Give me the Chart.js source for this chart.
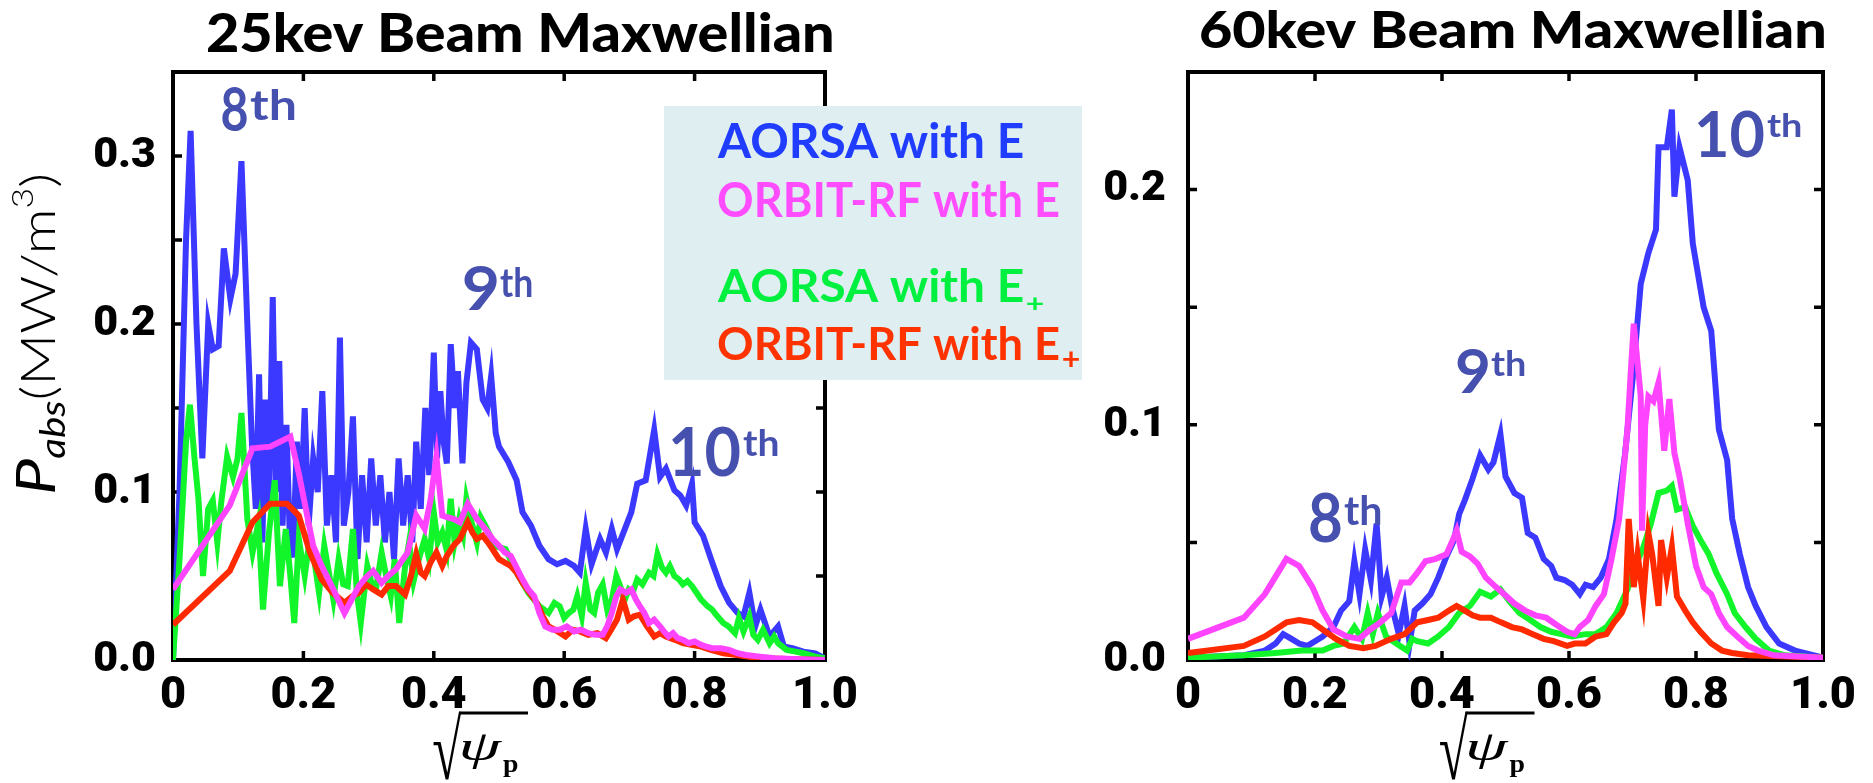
<!DOCTYPE html>
<html>
<head>
<meta charset="utf-8">
<script src="https://cdn.jsdelivr.net/npm/chart.js@4"></script>
<style>
  body { margin: 0; background: #fff; width: 1873px; height: 783px; overflow: hidden; position: relative; }
  canvas { position: absolute; top: 0; }
  #left { left: 0; }
  #right { left: 1100px; }
</style>
</head>
<body>
<canvas id="left" width="1100" height="783"></canvas>
<canvas id="right" width="773" height="783"></canvas>
<script>
// ---- data: [sqrt(psi_p), P_abs] ----
const blue25 = [[0,0],[0.01,0.1],[0.02,0.25],[0.027,0.315],[0.036,0.2],[0.045,0.12],[0.054,0.2],[0.061,0.185],[0.07,0.187],[0.078,0.245],[0.088,0.215],[0.096,0.23],[0.105,0.297],[0.114,0.2],[0.121,0.13],[0.127,0.09],[0.132,0.17],[0.137,0.07],[0.142,0.155],[0.147,0.09],[0.153,0.216],[0.158,0.1],[0.163,0.178],[0.168,0.08],[0.174,0.14],[0.179,0.075],[0.184,0.061],[0.19,0.13],[0.196,0.09],[0.202,0.15],[0.208,0.08],[0.215,0.12],[0.222,0.1],[0.229,0.16],[0.236,0.08],[0.243,0.11],[0.25,0.07],[0.256,0.192],[0.262,0.08],[0.269,0.1],[0.276,0.145],[0.283,0.06],[0.29,0.11],[0.297,0.07],[0.304,0.12],[0.311,0.08],[0.318,0.11],[0.325,0.07],[0.332,0.1],[0.339,0.06],[0.346,0.12],[0.353,0.08],[0.36,0.11],[0.367,0.07],[0.373,0.13],[0.38,0.09],[0.387,0.15],[0.393,0.11],[0.4,0.183],[0.405,0.12],[0.41,0.16],[0.415,0.13],[0.42,0.117],[0.426,0.188],[0.432,0.15],[0.437,0.172],[0.444,0.117],[0.45,0.165],[0.457,0.189],[0.466,0.185],[0.475,0.155],[0.482,0.15],[0.488,0.169],[0.495,0.135],[0.5,0.127],[0.514,0.118],[0.527,0.107],[0.536,0.088],[0.549,0.08],[0.562,0.068],[0.576,0.06],[0.589,0.057],[0.602,0.059],[0.615,0.056],[0.624,0.052],[0.633,0.078],[0.642,0.057],[0.655,0.072],[0.664,0.064],[0.673,0.078],[0.681,0.066],[0.695,0.08],[0.703,0.088],[0.712,0.105],[0.725,0.107],[0.738,0.137],[0.747,0.109],[0.756,0.114],[0.769,0.101],[0.778,0.098],[0.787,0.092],[0.796,0.105],[0.8,0.082],[0.813,0.074],[0.827,0.058],[0.84,0.044],[0.853,0.034],[0.866,0.028],[0.875,0.026],[0.884,0.04],[0.893,0.02],[0.901,0.03],[0.915,0.014],[0.928,0.02],[0.937,0.008],[0.95,0.007],[0.967,0.005],[0.985,0.004],[1,0.001]];
const green25 = [[0,0],[0.01,0.06],[0.02,0.13],[0.026,0.152],[0.033,0.12],[0.039,0.096],[0.046,0.05],[0.054,0.09],[0.061,0.095],[0.068,0.07],[0.074,0.094],[0.083,0.121],[0.092,0.109],[0.099,0.12],[0.105,0.147],[0.114,0.084],[0.122,0.064],[0.131,0.082],[0.138,0.03],[0.147,0.075],[0.156,0.107],[0.164,0.044],[0.173,0.078],[0.18,0.05],[0.186,0.022],[0.193,0.072],[0.202,0.05],[0.209,0.07],[0.215,0.064],[0.224,0.04],[0.232,0.068],[0.24,0.05],[0.246,0.036],[0.254,0.06],[0.261,0.045],[0.268,0.044],[0.276,0.078],[0.282,0.04],[0.288,0.022],[0.298,0.056],[0.305,0.045],[0.312,0.044],[0.32,0.064],[0.327,0.05],[0.334,0.038],[0.34,0.06],[0.347,0.022],[0.356,0.056],[0.362,0.07],[0.369,0.047],[0.377,0.06],[0.386,0.072],[0.393,0.06],[0.4,0.088],[0.406,0.07],[0.413,0.076],[0.42,0.065],[0.426,0.096],[0.432,0.07],[0.439,0.084],[0.445,0.075],[0.45,0.096],[0.458,0.082],[0.466,0.07],[0.472,0.085],[0.479,0.08],[0.485,0.075],[0.492,0.068],[0.51,0.066],[0.527,0.052],[0.545,0.04],[0.562,0.032],[0.576,0.028],[0.585,0.034],[0.593,0.032],[0.6,0.025],[0.607,0.028],[0.614,0.03],[0.62,0.038],[0.627,0.026],[0.633,0.046],[0.64,0.03],[0.646,0.028],[0.652,0.04],[0.659,0.045],[0.666,0.03],[0.673,0.036],[0.68,0.05],[0.686,0.044],[0.692,0.035],[0.699,0.042],[0.705,0.04],[0.712,0.048],[0.72,0.045],[0.73,0.052],[0.737,0.05],[0.743,0.063],[0.75,0.055],[0.756,0.052],[0.762,0.056],[0.769,0.05],[0.776,0.048],[0.782,0.045],[0.789,0.047],[0.796,0.044],[0.803,0.04],[0.81,0.036],[0.82,0.032],[0.827,0.03],[0.835,0.026],[0.844,0.022],[0.852,0.02],[0.862,0.016],[0.868,0.025],[0.875,0.017],[0.884,0.026],[0.89,0.015],[0.897,0.012],[0.905,0.018],[0.915,0.01],[0.922,0.014],[0.928,0.01],[0.941,0.006],[0.955,0.005],[0.967,0.004],[0.985,0.002],[1,0.001]];
const magenta25 = [[0,0.042],[0.087,0.092],[0.122,0.126],[0.149,0.127],[0.18,0.133],[0.193,0.111],[0.215,0.068],[0.228,0.056],[0.246,0.042],[0.263,0.028],[0.285,0.044],[0.298,0.05],[0.307,0.053],[0.32,0.046],[0.33,0.05],[0.342,0.054],[0.36,0.064],[0.373,0.086],[0.386,0.078],[0.395,0.095],[0.404,0.121],[0.413,0.086],[0.42,0.085],[0.43,0.084],[0.44,0.082],[0.452,0.093],[0.466,0.084],[0.475,0.08],[0.483,0.076],[0.49,0.072],[0.5,0.068],[0.509,0.064],[0.518,0.062],[0.527,0.055],[0.536,0.048],[0.545,0.042],[0.554,0.038],[0.562,0.028],[0.571,0.02],[0.582,0.018],[0.593,0.018],[0.604,0.02],[0.615,0.017],[0.626,0.018],[0.637,0.016],[0.648,0.015],[0.659,0.015],[0.666,0.02],[0.673,0.028],[0.68,0.038],[0.686,0.042],[0.695,0.04],[0.703,0.042],[0.71,0.036],[0.716,0.032],[0.723,0.028],[0.73,0.022],[0.738,0.024],[0.747,0.02],[0.753,0.017],[0.76,0.014],[0.767,0.016],[0.774,0.013],[0.782,0.012],[0.791,0.01],[0.8,0.011],[0.81,0.009],[0.818,0.008],[0.827,0.007],[0.84,0.007],[0.853,0.006],[0.866,0.004],[0.879,0.003],[0.9,0.002],[0.923,0.001],[0.96,0.0005],[1,0]];
const red25 = [[0,0.021],[0.087,0.053],[0.122,0.082],[0.149,0.093],[0.175,0.093],[0.193,0.086],[0.21,0.064],[0.228,0.048],[0.245,0.04],[0.263,0.034],[0.275,0.038],[0.285,0.04],[0.296,0.045],[0.307,0.042],[0.32,0.039],[0.33,0.044],[0.342,0.044],[0.356,0.039],[0.365,0.05],[0.373,0.063],[0.38,0.052],[0.386,0.05],[0.395,0.058],[0.404,0.064],[0.413,0.056],[0.42,0.062],[0.43,0.068],[0.44,0.072],[0.452,0.082],[0.459,0.076],[0.466,0.072],[0.475,0.074],[0.483,0.07],[0.49,0.066],[0.5,0.06],[0.509,0.058],[0.518,0.056],[0.527,0.052],[0.536,0.046],[0.547,0.04],[0.558,0.034],[0.567,0.026],[0.576,0.02],[0.59,0.017],[0.602,0.014],[0.613,0.018],[0.624,0.017],[0.637,0.015],[0.651,0.016],[0.664,0.013],[0.672,0.018],[0.681,0.024],[0.69,0.036],[0.699,0.024],[0.707,0.026],[0.716,0.027],[0.727,0.02],[0.738,0.014],[0.747,0.016],[0.756,0.014],[0.77,0.012],[0.782,0.01],[0.795,0.009],[0.81,0.008],[0.825,0.006],[0.844,0.004],[0.865,0.003],[0.9,0.001],[1,0]];

const blue60 = [[0,0.001],[0.088,0.002],[0.121,0.004],[0.138,0.007],[0.15,0.011],[0.163,0.009],[0.175,0.007],[0.188,0.006],[0.2,0.008],[0.212,0.01],[0.229,0.014],[0.241,0.021],[0.254,0.025],[0.262,0.042],[0.27,0.028],[0.279,0.047],[0.288,0.034],[0.297,0.058],[0.305,0.027],[0.313,0.035],[0.321,0.023],[0.332,0.011],[0.341,0.023],[0.349,0.007],[0.357,0.021],[0.369,0.024],[0.382,0.028],[0.394,0.035],[0.407,0.044],[0.419,0.051],[0.427,0.062],[0.436,0.068],[0.448,0.077],[0.46,0.087],[0.473,0.081],[0.481,0.084],[0.492,0.096],[0.5,0.078],[0.514,0.071],[0.526,0.069],[0.535,0.054],[0.547,0.052],[0.56,0.043],[0.572,0.04],[0.58,0.035],[0.593,0.034],[0.605,0.032],[0.617,0.028],[0.626,0.032],[0.638,0.031],[0.65,0.035],[0.663,0.043],[0.675,0.06],[0.688,0.087],[0.7,0.119],[0.713,0.16],[0.725,0.173],[0.737,0.183],[0.741,0.218],[0.754,0.218],[0.762,0.234],[0.766,0.197],[0.774,0.218],[0.787,0.204],[0.795,0.177],[0.812,0.15],[0.824,0.14],[0.836,0.098],[0.849,0.085],[0.857,0.06],[0.869,0.045],[0.882,0.031],[0.894,0.023],[0.911,0.014],[0.931,0.007],[0.956,0.004],[1,0.001]];
const green60 = [[0,0.001],[0.088,0.002],[0.138,0.003],[0.179,0.004],[0.212,0.004],[0.229,0.006],[0.245,0.007],[0.262,0.014],[0.274,0.009],[0.283,0.02],[0.291,0.011],[0.299,0.02],[0.312,0.01],[0.328,0.007],[0.345,0.004],[0.353,0.009],[0.361,0.008],[0.378,0.007],[0.394,0.01],[0.411,0.014],[0.427,0.02],[0.444,0.023],[0.46,0.029],[0.477,0.027],[0.492,0.03],[0.506,0.025],[0.522,0.02],[0.539,0.017],[0.555,0.014],[0.572,0.012],[0.588,0.011],[0.605,0.01],[0.626,0.011],[0.642,0.011],[0.659,0.014],[0.675,0.02],[0.692,0.03],[0.704,0.04],[0.716,0.047],[0.729,0.058],[0.741,0.071],[0.754,0.072],[0.762,0.074],[0.77,0.064],[0.783,0.065],[0.795,0.057],[0.807,0.051],[0.82,0.045],[0.832,0.037],[0.849,0.028],[0.861,0.02],[0.878,0.014],[0.894,0.009],[0.915,0.004],[0.94,0.002],[1,0.001]];
const magenta60 = [[0,0.009],[0.088,0.018],[0.121,0.028],[0.155,0.043],[0.175,0.04],[0.196,0.031],[0.212,0.021],[0.229,0.013],[0.25,0.01],[0.27,0.009],[0.287,0.013],[0.303,0.016],[0.32,0.02],[0.336,0.033],[0.349,0.033],[0.361,0.037],[0.374,0.042],[0.39,0.043],[0.407,0.045],[0.417,0.051],[0.423,0.055],[0.431,0.046],[0.444,0.044],[0.456,0.041],[0.469,0.035],[0.485,0.031],[0.502,0.027],[0.514,0.024],[0.531,0.021],[0.547,0.019],[0.564,0.018],[0.58,0.015],[0.597,0.012],[0.609,0.011],[0.617,0.014],[0.63,0.017],[0.642,0.023],[0.655,0.028],[0.667,0.043],[0.679,0.06],[0.692,0.098],[0.697,0.121],[0.702,0.143],[0.708,0.126],[0.713,0.112],[0.715,0.055],[0.72,0.1],[0.725,0.112],[0.733,0.11],[0.741,0.118],[0.75,0.089],[0.758,0.111],[0.766,0.088],[0.774,0.078],[0.787,0.058],[0.8,0.04],[0.812,0.031],[0.824,0.028],[0.836,0.02],[0.849,0.014],[0.865,0.01],[0.882,0.006],[0.898,0.004],[0.923,0.002],[1,0.001]];
const red60 = [[0,0.003],[0.088,0.006],[0.121,0.01],[0.138,0.013],[0.155,0.016],[0.175,0.017],[0.196,0.016],[0.212,0.013],[0.233,0.009],[0.254,0.006],[0.276,0.005],[0.295,0.006],[0.32,0.009],[0.341,0.011],[0.361,0.016],[0.378,0.017],[0.394,0.018],[0.411,0.021],[0.423,0.023],[0.436,0.021],[0.448,0.019],[0.46,0.018],[0.477,0.018],[0.493,0.016],[0.51,0.014],[0.526,0.013],[0.543,0.011],[0.56,0.009],[0.576,0.008],[0.597,0.006],[0.609,0.007],[0.626,0.007],[0.642,0.01],[0.659,0.011],[0.671,0.016],[0.683,0.02],[0.689,0.024],[0.694,0.06],[0.702,0.031],[0.708,0.045],[0.717,0.026],[0.725,0.054],[0.731,0.045],[0.741,0.023],[0.745,0.051],[0.754,0.035],[0.762,0.048],[0.77,0.027],[0.783,0.021],[0.795,0.016],[0.807,0.012],[0.824,0.007],[0.841,0.004],[0.857,0.003],[0.882,0.002],[1,0.001]];

const xTickLabels = ['0', '0.2', '0.4', '0.6', '0.8', '1.0'];
const yTickLabels25 = ['0.0', '', '0.1', '', '0.2', '', '0.3', ''];
const yTickLabels60 = ['0.0', '', '0.1', '', '0.2', ''];
const legendTexts = ['AORSA with E', 'ORBIT-RF with E', 'AORSA with E', 'ORBIT-RF with E'];
const legendSubs = ['', '', '+', '+'];

// ---- styles ----
const BLUE = '#3b38ff', MAGENTA = '#ff44ff', GREEN = '#12f52a', RED = '#ff2a00';
const LEGEND_COLORS = ['#1f3cff', '#ff4cff', '#00f040', '#ff3300'];
const ORD = '#4650ae';
const SANS = 'Lato, "Open Sans", sans-serif';
const TICK_FONT = 'Roboto, "Liberation Sans", sans-serif';
const SERIF = '"Liberation Serif", "DejaVu Serif", serif';

// draw text squeezed so its ink fills box [x0, x1, y0, y1]
function fitText(ctx, text, font, color, box) {
  ctx.save();
  ctx.font = font;
  ctx.textAlign = 'left';
  ctx.textBaseline = 'alphabetic';
  const m = ctx.measureText(text);
  const w = m.actualBoundingBoxLeft + m.actualBoundingBoxRight;
  const h = m.actualBoundingBoxAscent + m.actualBoundingBoxDescent;
  ctx.translate(box[0], box[2]);
  ctx.scale((box[1] - box[0]) / w, (box[3] - box[2]) / h);
  ctx.fillStyle = color;
  ctx.fillText(text, m.actualBoundingBoxLeft, m.actualBoundingBoxAscent);
  ctx.restore();
}

const decor = {
  id: 'decor',
  beforeDatasetsDraw(chart) {
    const { ctx, chartArea: a, scales: { x, y } } = chart;
    ctx.save();
    ctx.strokeStyle = '#000';
    ctx.lineWidth = 4;
    ctx.strokeRect(a.left, a.top, a.right - a.left, a.bottom - a.top);
    ctx.lineWidth = 3.5;
    ctx.beginPath();
    x.ticks.forEach(t => {
      if (t.value <= x.min || t.value >= x.max) return;
      const p = x.getPixelForValue(t.value);
      ctx.moveTo(p, a.top); ctx.lineTo(p, a.top + 9);
      ctx.moveTo(p, a.bottom); ctx.lineTo(p, a.bottom - 9);
    });
    y.ticks.forEach(t => {
      if (t.value <= y.min || t.value >= y.max) return;
      const p = y.getPixelForValue(t.value);
      ctx.moveTo(a.left, p); ctx.lineTo(a.left + 9, p);
      ctx.moveTo(a.right, p); ctx.lineTo(a.right - 9, p);
    });
    ctx.stroke();
    ctx.restore();
  },
  afterDraw(chart, args, o) {
    const { ctx, chartArea: a, scales: { x, y } } = chart;
    fitText(ctx, o.title, '900 52px ' + SANS, '#000', o.titleBox);

    // sqrt(psi_p) axis title
    const sx = (a.left + a.right) / 2 - 66;
    fitText(ctx, '\u221A', '64px ' + SERIF, '#000', [sx, sx + 29, 711, 780]);
    ctx.save();
    ctx.strokeStyle = '#000';
    ctx.lineWidth = 3;
    ctx.beginPath();
    ctx.moveTo(sx + 26, 713);
    ctx.lineTo(sx + 95, 713);
    ctx.stroke();
    ctx.restore();
    fitText(ctx, '\u03C8', 'italic 40px ' + SERIF, '#000', [sx + 29, sx + 70, 735, 770]);
    fitText(ctx, 'p', 'bold 26px ' + SERIF, '#000', [sx + 70, sx + 85, 760, 777]);

    // harmonic labels
    o.ordinals.forEach(d => {
      const left = x.getPixelForValue(d.x), bottom = y.getPixelForValue(d.y);
      fitText(ctx, d.n, 'bold 62px ' + SANS, ORD, [left, left + d.w, bottom - d.h, bottom]);
      const tl = left + d.w + 3;
      fitText(ctx, 'th', 'bold 40px ' + SANS, ORD, [tl, tl + d.tw, bottom - d.h, bottom - d.h + d.th]);
    });

    if (o.legend) {
      ctx.save();
      ctx.fillStyle = '#dfeef1';
      ctx.fillRect(664, 106, 418, 274);
      ctx.restore();
      const rows = [[717, 1023, 122, 158], [718, 1059, 181, 217], [717, 1023, 267, 302], [718, 1059, 325, 360]];
      const subs = [null, null, [1027, 1043, 297, 310], [1063, 1079, 352, 368]];
      legendTexts.forEach((t, i) => {
        fitText(ctx, t, 'bold 49px ' + SANS, LEGEND_COLORS[i], rows[i]);
        if (legendSubs[i]) fitText(ctx, legendSubs[i], 'bold 28px ' + SANS, LEGEND_COLORS[i], subs[i]);
      });
    }

    if (o.yTitle) {
      ctx.save();
      ctx.translate(55, 495);
      ctx.rotate(-Math.PI / 2);
      ctx.fillStyle = '#000';
      ctx.textBaseline = 'alphabetic';
      const parts = [
        ['P', 'italic 54px ' + SANS, 0],
        ['abs', 'italic 34px ' + SANS, 10],
        ['(MW/m', '300 48px ' + SANS, 0],
        ['3', '300 30px ' + SANS, -22],
        [')', '300 48px ' + SANS, 0]
      ];
      let total = 0;
      parts.forEach(p => { ctx.font = p[1]; total += ctx.measureText(p[0]).width; });
      ctx.scale(322 / total, 1);
      let cx = 0;
      parts.forEach(p => {
        ctx.font = p[1];
        ctx.fillText(p[0], cx, p[2]);
        cx += ctx.measureText(p[0]).width;
      });
      ctx.restore();
    }
  }
};

function series(pairs, color) {
  return {
    data: pairs.map(p => ({ x: p[0], y: p[1] })),
    borderColor: color,
    borderWidth: 6,
    pointRadius: 0,
    tension: 0,
    fill: false
  };
}

function makeChart(id, cfg) {
  return new Chart(document.getElementById(id), {
    type: 'line',
    data: {
      datasets: [
        series(cfg.magenta, MAGENTA),
        series(cfg.red, RED),
        series(cfg.green, GREEN),
        series(cfg.blue, BLUE)
      ]
    },
    options: {
      responsive: false,
      animation: false,
      events: [],
      layout: { padding: { left: 0, right: cfg.padRight, top: 72, bottom: 0 } },
      plugins: {
        legend: { display: false },
        tooltip: { enabled: false },
        decor: cfg.decor
      },
      scales: {
        x: {
          type: 'linear', min: 0, max: 1,
          grid: { display: false }, border: { display: false },
          ticks: {
            stepSize: 0.2, autoSkip: false, maxRotation: 0, color: '#000', padding: 2,
            font: { family: TICK_FONT, size: 45, weight: '900' },
            callback: (v, i) => xTickLabels[i]
          },
          afterFit: s => { s.height = 123; }
        },
        y: {
          type: 'linear', min: 0, max: cfg.yMax,
          grid: { display: false }, border: { display: false },
          ticks: {
            stepSize: 0.05, autoSkip: false, color: '#000', padding: cfg.yPad,
            font: { family: TICK_FONT, size: 43, weight: '900' },
            callback: (v, i) => cfg.yLabels[i]
          },
          afterFit: s => { s.width = cfg.yWidth; }
        }
      }
    },
    plugins: [decor]
  });
}

makeChart('left', {
  blue: blue25, green: green25, magenta: magenta25, red: red25,
  yMax: 0.35, yLabels: yTickLabels25, yWidth: 173, yPad: 9, padRight: 275,
  decor: {
    title: '25kev Beam Maxwellian', titleBox: [207, 832, 13, 52],
    legend: true, yTitle: true,
    ordinals: [
      { n: '8', x: 0.0752, y: 0.3146, w: 25, h: 43, tw: 45, th: 32 },
      { n: '9', x: 0.4463, y: 0.2084, w: 33, h: 43, tw: 32, th: 30 },
      { n: '10', x: 0.7653, y: 0.1093, w: 68, h: 47, tw: 35, th: 27 }
    ]
  }
});

makeChart('right', {
  blue: blue60, green: green60, magenta: magenta60, red: red60,
  yMax: 0.25, yLabels: yTickLabels60, yWidth: 88, yPad: 14, padRight: 50,
  decor: {
    title: '60kev Beam Maxwellian', titleBox: [100, 724, 10, 48],
    legend: false, yTitle: false,
    ordinals: [
      { n: '10', x: 0.8031, y: 0.2140, w: 66, h: 45, tw: 34, th: 25 },
      { n: '9', x: 0.4236, y: 0.1136, w: 31, h: 43, tw: 34, th: 26 },
      { n: '8', x: 0.1921, y: 0.0502, w: 31, h: 47, tw: 37, th: 30 }
    ]
  }
});
</script>
</body>
</html>
